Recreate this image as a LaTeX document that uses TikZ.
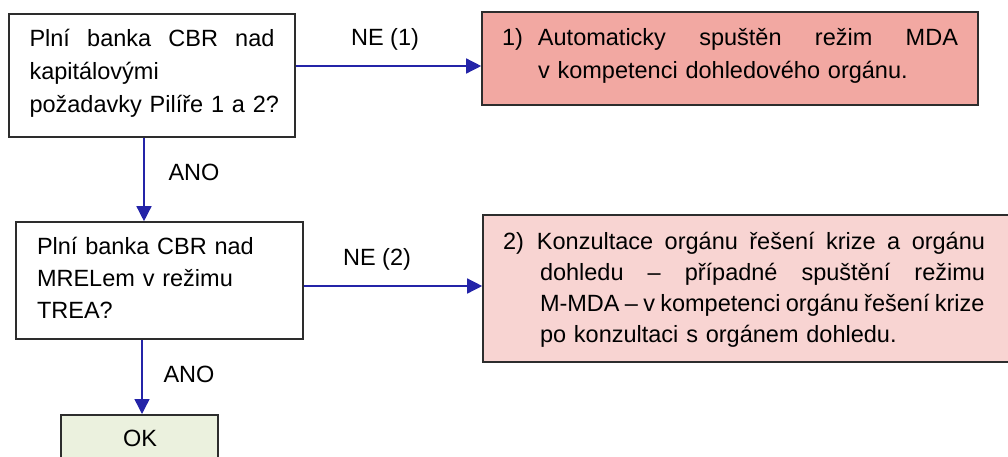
\documentclass[tikz,border=0pt]{standalone}
\usepackage{fontspec}
\setmainfont{Liberation Sans}
\usetikzlibrary{arrows.meta,calc}

\definecolor{flowblue}{RGB}{36,36,168}
\definecolor{boxline}{RGB}{45,45,45}
\definecolor{redfill}{RGB}{242,168,162}
\definecolor{pinkfill}{RGB}{248,212,210}
\definecolor{greenfill}{RGB}{235,241,222}

% struts fixing the height above the first baseline and below the last one
\newcommand\topstrut{\rule{0pt}{20pt}}
\newcommand\botstrut[1]{\rule[-#1]{0pt}{#1}}

\tikzset{
  question/.style={draw=boxline, line width=1.6pt, fill=white, rectangle,
    inner sep=0pt, align=left,
    font=\fontsize{23.5}{33}\selectfont},
  outcome/.style={question},
  flow/.style={draw=flowblue, line width=1.4pt,
    -{Triangle[length=15pt,width=15pt]}},
  answer/.style={anchor=base, inner sep=0pt, font=\fontsize{23.5}{28}\selectfont}
}

\begin{document}
\begin{tikzpicture}[x=1pt,y=-1pt]
\useasboundingbox (0,0) rectangle (1008,456);
\clip (0,0) rectangle (1008,456);

% first test: capital requirements
\node[question, minimum width=286pt, minimum height=123pt, text width=245pt]
  (q1) at (152,75.5)
  {\makebox[245pt][s]{\topstrut Plní\hfill banka\hfill CBR\hfill nad}\\
   kapitálovými\\
   \makebox[245pt][l]{požadavky Pilíře 1 a 2?\botstrut{11.3pt}}};

% second test: MREL
\node[question, minimum width=287pt, minimum height=117pt, text width=245pt,
      font=\fontsize{23.5}{32}\selectfont]
  (q2) at (159.5,280.5)
  {\topstrut Plní banka CBR nad\\
   MRELem v režimu\\
   TREA?\botstrut{9pt}};

% outcome 1: automatic MDA
\node[outcome, fill=redfill, minimum width=496pt, minimum height=93pt,
      text width=456pt]
  (a) at (730,58.5)
  {\makebox[456pt][s]{\topstrut\makebox[36pt][l]{1)}Automaticky\hfill spuštěn\hfill režim\hfill MDA}\\
   \hspace*{36pt}v kompetenci dohledového orgánu.\botstrut{14pt}};

% outcome 2: M-MDA after consultation
\node[outcome, fill=pinkfill, minimum width=532pt, minimum height=147pt,
      text width=492pt, font=\fontsize{23.5}{31}\selectfont]
  (b) at (749,288.5)
  {\makebox[482pt][s]{\topstrut\makebox[34pt][l]{2)}Konzultace\hfill orgánu\hfill řešení\hfill krize\hfill a\hfill orgánu}\\
   \makebox[482pt][s]{\hspace*{37pt}dohledu\hfill–\hfill případné\hfill spuštění\hfill režimu}\\
   \makebox[482pt][l]{\spaceskip=5.3pt\hspace*{37pt}M-MDA – v kompetenci orgánu řešení krize}\\
   \hspace*{37pt}po konzultaci s orgánem dohledu.\botstrut{6pt}};

% final state
\node[outcome, fill=greenfill, minimum width=157pt, minimum height=80pt,
      anchor=north]
  (ok) at (139.5,414) {};
\node[answer] (oktext) at (140,446) {OK};

% connectors
\draw[flow] ([xshift=-8pt]q1.south) -- ([xshift=-8pt]q1.south |- q2.north);
\draw[flow] ([xshift=2.5pt]ok.north |- q2.south) -- ([xshift=2.5pt]ok.north);
\draw[flow] ([yshift=9.5pt]q1.east) -- ([yshift=9.5pt]q1.east -| a.west);
\draw[flow] ([yshift=-5.5pt]q2.east) -- ([yshift=-5.5pt]q2.east -| b.west);

% answer labels
\node[answer] (ne1) at (385,45) {NE (1)};
\node[answer] (ano1) at (194,180) {ANO};
\node[answer] (ne2) at (377,265) {NE (2)};
\node[answer] (ano2) at (189,382) {ANO};
\end{tikzpicture}
\end{document}
